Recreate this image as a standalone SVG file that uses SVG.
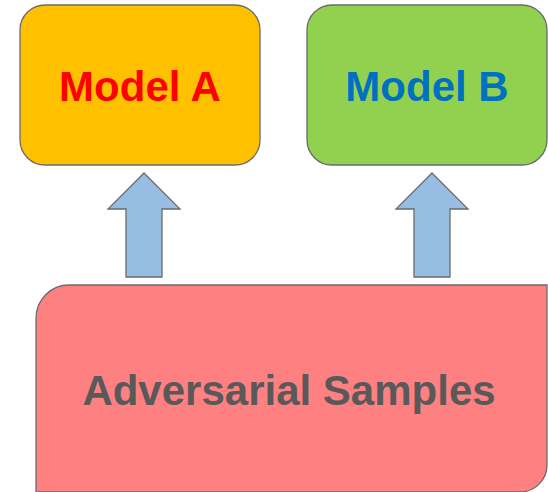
<svg xmlns="http://www.w3.org/2000/svg" width="548" height="492" viewBox="0 0 548 492">
<style>
.box{stroke:#6b6b6b;stroke-width:1.3}
.arrow{fill:#97BDE2;stroke:#6b6b6b;stroke-width:1.3;stroke-linejoin:miter}
.lbl{font-family:"Liberation Sans",Arial,sans-serif;font-weight:bold;font-size:42px;text-anchor:middle}
</style>
<rect width="548" height="492" fill="#ffffff"/>
<g id="modelA">
<rect class="box" x="20" y="5" width="240" height="160" rx="25" ry="25" fill="#FFC000"/>
<text class="lbl" x="140" y="101" fill="#FF0000">Model A</text>
</g>
<g id="modelB">
<rect class="box" x="307" y="5" width="240" height="160" rx="25" ry="25" fill="#92D050"/>
<text class="lbl" x="427" y="101" fill="#0070C0">Model B</text>
</g>
<g id="connectors">
<polygon class="arrow" points="144,173 180,209 162,209 162,277 126,277 126,209 108,209"/>
<polygon class="arrow" points="432,173 468,209 450,209 450,277 414,277 414,209 396,209"/>
</g>
<g id="adversarial">
<path class="box" d="M36,500 L36,318 A33,33 0 0 1 69,285 L547,285 L547,465 A27,27 0 0 1 520,492 L36,492 Z" fill="#FF8080"/>
<text class="lbl" x="289" y="405" fill="#595959">Adversarial Samples</text>
</g>
</svg>
